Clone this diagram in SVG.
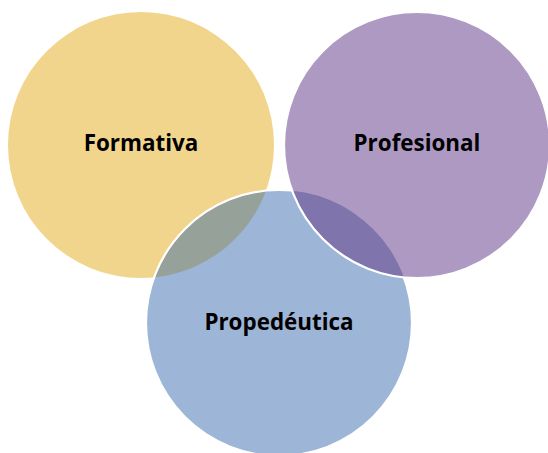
<svg xmlns="http://www.w3.org/2000/svg" width="548" height="453" viewBox="0 0 548 453">
<style>
.lbl{font-family:"Open Sans","Noto Sans","DejaVu Sans",sans-serif;font-weight:bold;font-size:22.4px;fill:#000;text-anchor:middle}
.ws{fill:none;stroke:#fff;stroke-width:2.2}
</style>
<defs>
<clipPath id="cy"><circle cx="141" cy="145" r="133"/></clipPath>
<clipPath id="cb"><circle cx="279" cy="323" r="133"/></clipPath>
</defs>
<rect width="548" height="453" fill="#fff"/>
<g id="formativa">
<circle cx="141" cy="145" r="133" fill="#F2D58C"/>
</g>
<g id="propedeutica">
<circle cx="279" cy="323" r="133" fill="#9DB5D6"/>
<circle cx="279" cy="323" r="133" fill="#96A19A" clip-path="url(#cy)"/>
<circle class="ws" cx="279" cy="323" r="133"/>
</g>
<g id="profesional">
<circle cx="417" cy="145" r="133" fill="#AE99C3"/>
<circle cx="417" cy="145" r="133" fill="#7F74AC" clip-path="url(#cb)"/>
<circle class="ws" cx="417" cy="145" r="133"/>
</g>
<g id="connectors"></g>
<g id="labels">
<text class="lbl" x="141" y="151">Formativa</text>
<text class="lbl" x="417" y="151">Profesional</text>
<text class="lbl" x="279" y="330">Propedéutica</text>
</g>
</svg>
